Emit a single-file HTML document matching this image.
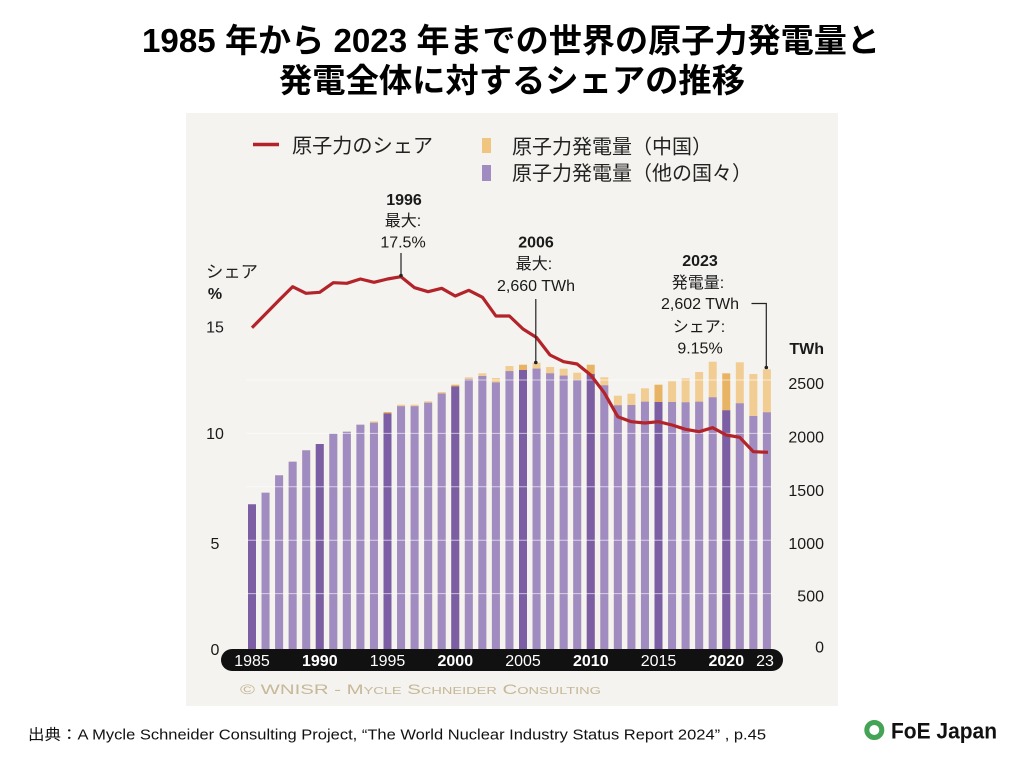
<!DOCTYPE html>
<html><head><meta charset="utf-8"><style>
html,body{margin:0;padding:0;background:#fff;}
svg{display:block;}
text{font-family:"Liberation Sans","Noto Sans CJK JP",sans-serif;}
.ann{font-size:16px;fill:#1a1a1a;text-anchor:middle;}
.b{font-weight:bold;}
.ax{font-size:16px;fill:#1a1a1a;}
.xl{font-size:16px;fill:#fff;text-anchor:middle;}
</style></head><body>
<svg width="1024" height="768" viewBox="0 0 1024 768" xmlns="http://www.w3.org/2000/svg">
<rect width="1024" height="768" fill="#fff"/>
<!-- Title -->
<text x="511" y="52" font-size="33" font-weight="bold" text-anchor="middle" fill="#000" textLength="738" lengthAdjust="spacingAndGlyphs">1985 年から 2023 年までの世界の原子力発電量と</text>
<text x="512" y="92" font-size="33" font-weight="bold" text-anchor="middle" fill="#000" textLength="466" lengthAdjust="spacingAndGlyphs">発電全体に対するシェアの推移</text>

<!-- Panel -->
<rect x="186" y="113" width="652" height="593" fill="#f4f3ef"/>

<!-- Legend -->
<line x1="253" y1="144.5" x2="279" y2="144.5" stroke="#b3232a" stroke-width="3.5"/>
<text x="292" y="152.5" font-size="20" fill="#222" textLength="141" lengthAdjust="spacingAndGlyphs">原子力のシェア</text>
<rect x="482" y="138" width="9" height="15" fill="#f0c57f"/>
<text x="512" y="153.5" font-size="20" fill="#222">原子力発電量（中国）</text>
<rect x="482" y="165" width="9" height="16" fill="#a08cc0"/>
<text x="512" y="180" font-size="20" fill="#222">原子力発電量（他の国々）</text>

<!-- Bars: orange (total) -->
<g>
<rect x="248.00" y="504.3" width="8" height="145.7" fill="#e8b464"/>
<rect x="261.55" y="492.7" width="8" height="157.3" fill="#f2cd93"/>
<rect x="275.10" y="475.3" width="8" height="174.7" fill="#f2cd93"/>
<rect x="288.65" y="461.7" width="8" height="188.3" fill="#f2cd93"/>
<rect x="302.20" y="450.3" width="8" height="199.7" fill="#f2cd93"/>
<rect x="315.75" y="444.0" width="8" height="206.0" fill="#e8b464"/>
<rect x="329.30" y="433.7" width="8" height="216.3" fill="#f2cd93"/>
<rect x="342.85" y="431.7" width="8" height="218.3" fill="#f2cd93"/>
<rect x="356.40" y="424.7" width="8" height="225.3" fill="#f2cd93"/>
<rect x="369.95" y="421.3" width="8" height="228.7" fill="#f2cd93"/>
<rect x="383.50" y="412.0" width="8" height="238.0" fill="#e8b464"/>
<rect x="397.05" y="404.7" width="8" height="245.3" fill="#f2cd93"/>
<rect x="410.60" y="404.7" width="8" height="245.3" fill="#f2cd93"/>
<rect x="424.15" y="401.3" width="8" height="248.7" fill="#f2cd93"/>
<rect x="437.70" y="392.0" width="8" height="258.0" fill="#f2cd93"/>
<rect x="451.25" y="384.7" width="8" height="265.3" fill="#e8b464"/>
<rect x="464.80" y="377.3" width="8" height="272.7" fill="#f2cd93"/>
<rect x="478.35" y="373.3" width="8" height="276.7" fill="#f2cd93"/>
<rect x="491.90" y="378.0" width="8" height="272.0" fill="#f2cd93"/>
<rect x="505.45" y="366.0" width="8" height="284.0" fill="#f2cd93"/>
<rect x="519.00" y="364.7" width="8" height="285.3" fill="#e8b464"/>
<rect x="532.55" y="362.7" width="8" height="287.3" fill="#f2cd93"/>
<rect x="546.10" y="367.0" width="8" height="283.0" fill="#f2cd93"/>
<rect x="559.65" y="368.7" width="8" height="281.3" fill="#f2cd93"/>
<rect x="573.20" y="372.7" width="8" height="277.3" fill="#f2cd93"/>
<rect x="586.75" y="364.7" width="8" height="285.3" fill="#e8b464"/>
<rect x="600.30" y="377.3" width="8" height="272.7" fill="#f2cd93"/>
<rect x="613.85" y="395.7" width="8" height="254.3" fill="#f2cd93"/>
<rect x="627.40" y="393.7" width="8" height="256.3" fill="#f2cd93"/>
<rect x="640.95" y="388.3" width="8" height="261.7" fill="#f2cd93"/>
<rect x="654.50" y="384.7" width="8" height="265.3" fill="#e8b464"/>
<rect x="668.05" y="381.3" width="8" height="268.7" fill="#f2cd93"/>
<rect x="681.60" y="378.3" width="8" height="271.7" fill="#f2cd93"/>
<rect x="695.15" y="372.0" width="8" height="278.0" fill="#f2cd93"/>
<rect x="708.70" y="361.7" width="8" height="288.3" fill="#f2cd93"/>
<rect x="722.25" y="373.3" width="8" height="276.7" fill="#e8b464"/>
<rect x="735.80" y="362.3" width="8" height="287.7" fill="#f2cd93"/>
<rect x="749.35" y="374.0" width="8" height="276.0" fill="#f2cd93"/>
<rect x="762.90" y="369.3" width="8" height="280.7" fill="#f2cd93"/>
</g>
<!-- Bars: purple (other countries) -->
<g>
<rect x="248.00" y="504.3" width="8" height="145.7" fill="#7c5ea5"/>
<rect x="261.55" y="492.7" width="8" height="157.3" fill="#a08cc0"/>
<rect x="275.10" y="475.3" width="8" height="174.7" fill="#a08cc0"/>
<rect x="288.65" y="461.7" width="8" height="188.3" fill="#a08cc0"/>
<rect x="302.20" y="450.3" width="8" height="199.7" fill="#a08cc0"/>
<rect x="315.75" y="444.0" width="8" height="206.0" fill="#7c5ea5"/>
<rect x="329.30" y="433.7" width="8" height="216.3" fill="#a08cc0"/>
<rect x="342.85" y="431.7" width="8" height="218.3" fill="#a08cc0"/>
<rect x="356.40" y="424.7" width="8" height="225.3" fill="#a08cc0"/>
<rect x="369.95" y="422.7" width="8" height="227.3" fill="#a08cc0"/>
<rect x="383.50" y="413.4" width="8" height="236.6" fill="#7c5ea5"/>
<rect x="397.05" y="406.2" width="8" height="243.8" fill="#a08cc0"/>
<rect x="410.60" y="406.2" width="8" height="243.8" fill="#a08cc0"/>
<rect x="424.15" y="402.7" width="8" height="247.3" fill="#a08cc0"/>
<rect x="437.70" y="393.5" width="8" height="256.5" fill="#a08cc0"/>
<rect x="451.25" y="386.4" width="8" height="263.6" fill="#7c5ea5"/>
<rect x="464.80" y="379.1" width="8" height="270.9" fill="#a08cc0"/>
<rect x="478.35" y="376.0" width="8" height="274.0" fill="#a08cc0"/>
<rect x="491.90" y="382.4" width="8" height="267.6" fill="#a08cc0"/>
<rect x="505.45" y="371.1" width="8" height="278.9" fill="#a08cc0"/>
<rect x="519.00" y="370.0" width="8" height="280.0" fill="#7c5ea5"/>
<rect x="532.55" y="368.6" width="8" height="281.4" fill="#a08cc0"/>
<rect x="546.10" y="373.3" width="8" height="276.7" fill="#a08cc0"/>
<rect x="559.65" y="375.6" width="8" height="274.4" fill="#a08cc0"/>
<rect x="573.20" y="379.7" width="8" height="270.3" fill="#a08cc0"/>
<rect x="586.75" y="374.0" width="8" height="276.0" fill="#7c5ea5"/>
<rect x="600.30" y="385.3" width="8" height="264.7" fill="#a08cc0"/>
<rect x="613.85" y="405.3" width="8" height="244.7" fill="#a08cc0"/>
<rect x="627.40" y="405.0" width="8" height="245.0" fill="#a08cc0"/>
<rect x="640.95" y="401.7" width="8" height="248.3" fill="#a08cc0"/>
<rect x="654.50" y="402.0" width="8" height="248.0" fill="#7c5ea5"/>
<rect x="668.05" y="402.0" width="8" height="248.0" fill="#a08cc0"/>
<rect x="681.60" y="402.3" width="8" height="247.7" fill="#a08cc0"/>
<rect x="695.15" y="401.7" width="8" height="248.3" fill="#a08cc0"/>
<rect x="708.70" y="397.3" width="8" height="252.7" fill="#a08cc0"/>
<rect x="722.25" y="410.3" width="8" height="239.7" fill="#7c5ea5"/>
<rect x="735.80" y="403.3" width="8" height="246.7" fill="#a08cc0"/>
<rect x="749.35" y="416.0" width="8" height="234.0" fill="#a08cc0"/>
<rect x="762.90" y="412.3" width="8" height="237.7" fill="#a08cc0"/>
</g>
<!-- Gridlines over bars -->
<g stroke="#ffffff" stroke-width="1" opacity="0.6">
<line x1="246" y1="380" x2="772" y2="380"/>
<line x1="246" y1="433.4" x2="772" y2="433.4"/>
<line x1="246" y1="486.8" x2="772" y2="486.8"/>
<line x1="246" y1="540.2" x2="772" y2="540.2"/>
<line x1="246" y1="593.6" x2="772" y2="593.6"/>
</g>

<!-- Share line -->
<polyline fill="none" stroke="#b3232a" stroke-width="3.2" stroke-linejoin="round" stroke-linecap="butt"
points="252,327.7 265.5,314 279,300.3 292.6,286.7 306,293.3 319.7,292.3 333.3,282.7 346.8,283.3 360.4,279 374,282.3 387.5,279 401,276.7 414.6,287.7 428.1,291.7 441.7,288.3 455.2,296 468.8,290.3 482.5,297.3 495.9,316 509.4,316 523,329 536.5,337.5 550,355 563.6,361.7 577.1,364 590.7,375 604.2,392.7 617.8,416.7 631.3,421.7 644.9,423 658.4,421.7 672,425 685.5,429.3 699.1,431.7 712.6,427.7 726.2,435 739.7,437.3 753.3,451.7 768,452.3"/>

<!-- Annotations -->
<text class="ann b" x="404" y="205">1996</text>
<text class="ann" x="403" y="226">最大:</text>
<text class="ann" x="403" y="247.5">17.5%</text>
<line x1="401" y1="253" x2="401" y2="275" stroke="#222" stroke-width="1.2"/>
<circle cx="401" cy="275.5" r="1.8" fill="#222"/>

<text class="ann b" x="536" y="247.5">2006</text>
<text class="ann" x="534" y="269">最大:</text>
<text class="ann" x="536" y="291">2,660 TWh</text>
<line x1="535.8" y1="299" x2="535.8" y2="362" stroke="#222" stroke-width="1.2"/>
<circle cx="535.8" cy="362.5" r="1.8" fill="#222"/>

<text class="ann b" x="700" y="266">2023</text>
<text class="ann" x="698" y="288">発電量:</text>
<text class="ann" x="700" y="309">2,602 TWh</text>
<text class="ann" x="699" y="332">シェア:</text>
<text class="ann" x="700" y="353.5">9.15%</text>
<polyline fill="none" stroke="#222" stroke-width="1.2" points="751.5,303.5 766.3,303.5 766.3,367"/>
<circle cx="766.3" cy="367.5" r="1.8" fill="#222"/>

<!-- Left axis -->
<text x="206" y="277.5" font-size="17" fill="#222" textLength="52" lengthAdjust="spacingAndGlyphs">シェア</text>
<text class="ax b" x="215" y="299" text-anchor="middle">%</text>
<text class="ax" x="215" y="332.5" text-anchor="middle">15</text>
<text class="ax" x="215" y="439" text-anchor="middle">10</text>
<text class="ax" x="215" y="549" text-anchor="middle">5</text>
<text class="ax" x="215" y="655" text-anchor="middle">0</text>

<!-- Right axis -->
<text class="ax b" x="824" y="354" text-anchor="end">TWh</text>
<text class="ax" x="824" y="389" text-anchor="end">2500</text>
<text class="ax" x="824" y="442.5" text-anchor="end">2000</text>
<text class="ax" x="824" y="496" text-anchor="end">1500</text>
<text class="ax" x="824" y="549" text-anchor="end">1000</text>
<text class="ax" x="824" y="601.5" text-anchor="end">500</text>
<text class="ax" x="824" y="652.5" text-anchor="end">0</text>

<!-- X axis pill -->
<rect x="221" y="649" width="562" height="22" rx="11" ry="11" fill="#111"/>
<text class="xl" x="252" y="666">1985</text>
<text class="xl b" x="319.8" y="666">1990</text>
<text class="xl" x="387.5" y="666">1995</text>
<text class="xl b" x="455.3" y="666">2000</text>
<text class="xl" x="523" y="666">2005</text>
<text class="xl b" x="590.8" y="666">2010</text>
<text class="xl" x="658.5" y="666">2015</text>
<text class="xl b" x="726.3" y="666">2020</text>
<text class="xl" x="765" y="666">23</text>

<!-- Copyright -->
<text x="240" y="694" font-size="14" fill="#c6b898" style="font-variant:small-caps;" textLength="361" lengthAdjust="spacingAndGlyphs">© WNISR - Mycle Schneider Consulting</text>

<!-- Footer -->
<text x="28" y="739.5" font-size="15" fill="#111" textLength="738" lengthAdjust="spacingAndGlyphs">出典：A Mycle Schneider Consulting Project, “The World Nuclear Industry Status Report 2024” , p.45</text>

<!-- Logo -->
<circle cx="874.3" cy="730" r="7.5" fill="none" stroke="#45a356" stroke-width="5"/>
<text x="891" y="738.5" font-size="22" font-weight="bold" fill="#111" textLength="106" lengthAdjust="spacingAndGlyphs">FoE Japan</text>
</svg>
</body></html>
